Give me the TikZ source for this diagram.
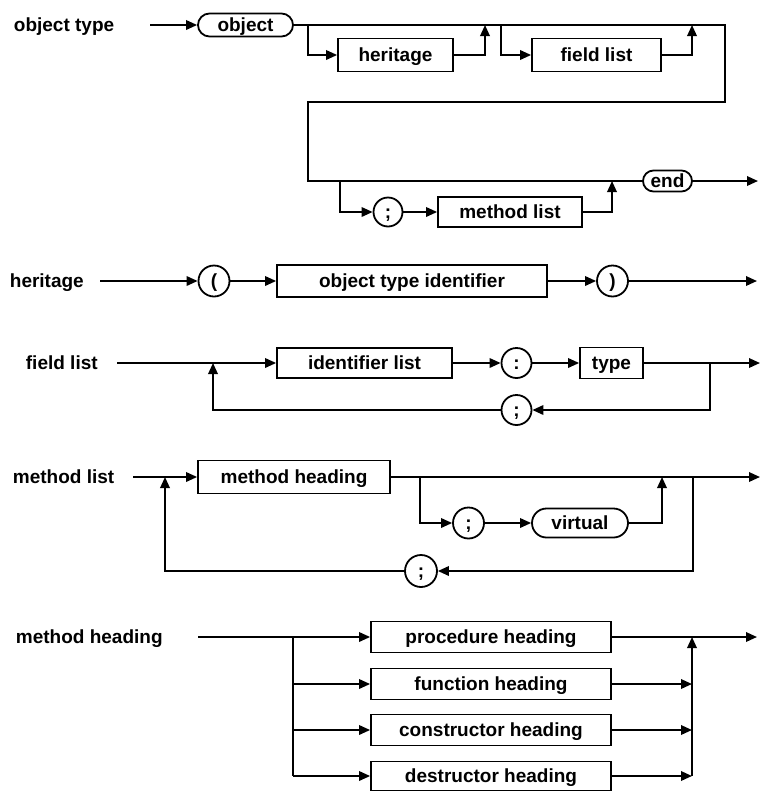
\documentclass[tikz,border=0pt]{standalone}
\usepackage{fontspec}
\setmainfont{Liberation Sans}
\usetikzlibrary{arrows.meta,shapes.misc}
\begin{document}
\begin{tikzpicture}[x=1pt,y=-1pt,
  line width=1.8pt,
  every node/.style={inner sep=0pt,text height=16pt,text depth=3.2pt,font=\fontsize{19}{21}\selectfont\bfseries},
  arr/.style={-{Triangle[length=11pt,width=9.5pt]}},
  lbl/.style={anchor=west},
  boxnode/.style={draw,rectangle,minimum height=32pt},
  termnode/.style={draw,rounded rectangle,minimum height=23pt},
  circnode/.style={draw,circle,minimum size=30pt}]
\useasboundingbox (0,0) rectangle (766,793);

% ---------- object type ----------
\node[lbl] (lOT) at (13,25) {object type};
\coordinate (s1) at (150,25);
\node[termnode,minimum width=95pt] (object) at (245.5,25) {object};
\node[boxnode,minimum width=115pt,minimum height=33pt] (herit) at (395.5,55) {heritage};
\node[boxnode,minimum width=129pt,minimum height=33pt] (flist) at (596.5,55) {field list};
\node[termnode,minimum width=49pt,minimum height=21pt] (endn) at (667.5,181) {end};
\node[circnode,minimum size=29pt] (semiA) at (388,212) {;};
\node[boxnode,minimum width=144pt,minimum height=30pt] (mlist) at (510,212) {method list};
\coordinate (j1) at (308,25);
\coordinate (hup) at (485,25);
\coordinate (j2) at (501,25);
\coordinate (fup) at (692,25);
\coordinate (r1) at (725,25);
\coordinate (r2) at (725,102);
\coordinate (r3) at (308,102);
\coordinate (r4) at (308,181);
\coordinate (m1) at (340,181);
\coordinate (mu) at (612,181);
\coordinate (e1) at (758,181);
\draw[arr] (s1) -- (object.west);
\draw (object.east) -- (r1) -- (r2) -- (r3) -- (r4) -- (endn.west);
\draw[arr] (j1) |- (herit.west);
\draw[arr] (herit.east) -| (hup);
\draw[arr] (j2) |- (flist.west);
\draw[arr] (flist.east) -| (fup);
\draw[arr] (m1) |- (semiA.west);
\draw[arr] (semiA.east) -- (mlist.west);
\draw[arr] (mlist.east) -| (mu);
\draw[arr] (endn.east) -- (e1);

% ---------- heritage ----------
\node[lbl] (lH) at (9,281) {heritage};
\coordinate (s2) at (100,281);
\node[circnode,minimum size=31pt] (lpar) at (214,281) {(};
\node[boxnode,minimum width=270pt] (oti) at (412,281) {object type identifier};
\node[circnode,minimum size=31pt] (rpar) at (612.5,281) {)};
\coordinate (e2) at (757,281);
\draw[arr] (s2) -- (lpar.west);
\draw[arr] (lpar.east) -- (oti.west);
\draw[arr] (oti.east) -- (rpar.west);
\draw[arr] (rpar.east) -- (e2);

% ---------- field list ----------
\node[lbl] (lF) at (25,363) {field list};
\coordinate (s3) at (117,363);
\node[boxnode,minimum width=175pt,minimum height=30pt] (idl) at (364.5,363) {identifier list};
\node[circnode] (colon) at (516.5,363) {:};
\node[boxnode,minimum width=63pt,minimum height=31pt] (typ) at (611.5,363) {type};
\node[circnode] (semiB) at (516.5,410) {;};
\coordinate (e3) at (760,363);
\coordinate (rv3) at (710,363);
\coordinate (ju3) at (213,363);
\draw[arr] (s3) -- (idl.west);
\draw[arr] (idl.east) -- (colon.west);
\draw[arr] (colon.east) -- (typ.west);
\draw[arr] (typ.east) -- (e3);
\draw[arr] (rv3) |- (semiB.east);
\draw[arr] (semiB.west) -| (ju3);

% ---------- method list ----------
\node[lbl] (lM) at (12,477) {method list};
\coordinate (s4) at (133,477);
\node[boxnode,minimum width=192pt,minimum height=33pt] (mh) at (294,477) {method heading};
\node[circnode,minimum size=31pt] (semiC) at (468.5,523) {;};
\node[termnode,minimum width=96pt,minimum height=29pt] (virt) at (580,523) {virtual};
\node[circnode,minimum size=32pt] (semiD) at (421,571) {;};
\coordinate (e4) at (760,477);
\coordinate (b4) at (420,477);
\coordinate (vu) at (662,477);
\coordinate (rv4) at (693,477);
\coordinate (ju4) at (165,477);
\draw[arr] (s4) -- (mh.west);
\draw[arr] (mh.east) -- (e4);
\draw[arr] (b4) |- (semiC.west);
\draw[arr] (semiC.east) -- (virt.west);
\draw[arr] (virt.east) -| (vu);
\draw[arr] (rv4) |- (semiD.east);
\draw[arr] (semiD.west) -| (ju4);

% ---------- method heading ----------
\node[lbl] (lMH) at (15,637) {method heading};
\coordinate (s5) at (198,637);
\node[boxnode,minimum width=240pt,minimum height=31pt] (proc) at (491,637) {procedure heading};
\node[boxnode,minimum width=240pt,minimum height=31pt] (func) at (491,684) {function heading};
\node[boxnode,minimum width=240pt,minimum height=31pt] (cons) at (491,730) {constructor heading};
\node[boxnode,minimum width=240pt,minimum height=29pt] (dest) at (491,776) {destructor heading};
\coordinate (b5) at (293,637);
\coordinate (b5f) at (293,684);
\coordinate (b5c) at (293,730);
\coordinate (b5d) at (293,776);
\coordinate (e5) at (757,637);
\coordinate (v5t) at (692,637);
\coordinate (v5f) at (692,684);
\coordinate (v5c) at (692,730);
\coordinate (v5d) at (692,776);
\draw[arr] (s5) -- (proc.west);
\draw (b5) -- (b5d);
\draw[arr] (b5f) -- (func.west);
\draw[arr] (b5c) -- (cons.west);
\draw[arr] (b5d) -- (dest.west);
\draw[arr] (proc.east) -- (e5);
\draw[arr] (func.east) -- (v5f);
\draw[arr] (cons.east) -- (v5c);
\draw[arr] (dest.east) -- (v5d);
\draw[arr] (v5d) -- (v5t);
\end{tikzpicture}
\end{document}
